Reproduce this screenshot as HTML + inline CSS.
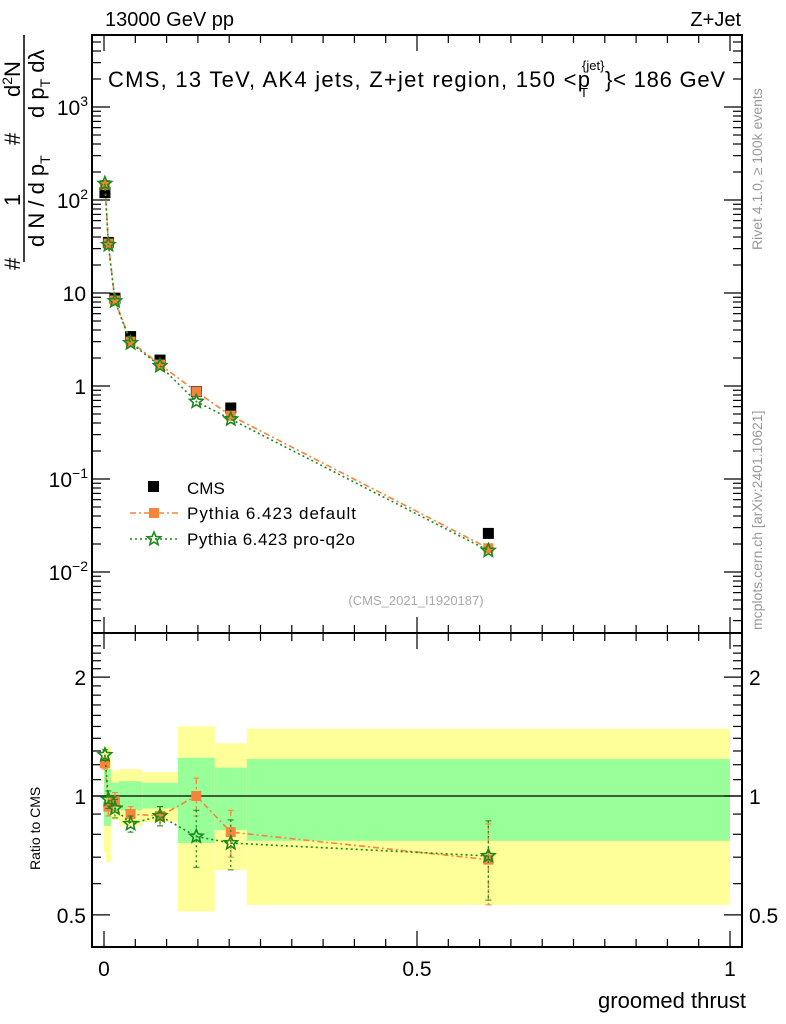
<!DOCTYPE html>
<html><head><meta charset="utf-8"><style>
body{margin:0;background:#fff;}
svg{display:block;font-family:"Liberation Sans",sans-serif;}
</style></head><body>
<svg id="chart" width="786" height="1024" viewBox="0 0 786 1024">
<text x="105" y="26" font-size="20">13000 GeV pp</text>
<text x="741" y="26" font-size="20" text-anchor="end">Z+Jet</text>
<g>
<text x="108" y="87" font-size="22" textLength="482" lengthAdjust="spacing">CMS, 13 TeV, AK4 jets, Z+jet region, 150 &lt;p</text>
<text x="580" y="97" font-size="13">T</text>
<text x="582" y="70" font-size="13">{jet}</text>
<text x="605" y="87" font-size="22" textLength="120" lengthAdjust="spacing">}&lt; 186 GeV</text>
</g>
<text x="416" y="605" font-size="13" fill="#aaa" text-anchor="middle">(CMS_2021_I1920187)</text>
<text transform="translate(762,250) rotate(-90)" font-size="14" fill="#999">Rivet 4.1.0, ≥ 100k events</text>
<text transform="translate(762,630) rotate(-90)" font-size="14" fill="#999">mcplots.cern.ch [arXiv:2401.10621]</text>
<g font-size="22">
<text transform="translate(20,270) rotate(-90)">#</text>
<text transform="translate(20,206) rotate(-90)">1</text>
<text transform="translate(20,145) rotate(-90)">#</text>
<text transform="translate(20,97) rotate(-90)">d<tspan font-size="14" dy="-8">2</tspan><tspan dy="8">N</tspan></text>
<line x1="24" y1="35" x2="24" y2="262" stroke="#000" stroke-width="1.5"/>
<text transform="translate(44,247) rotate(-90)">d N / d p<tspan font-size="14" dy="6">T</tspan></text>
<text transform="translate(44,118) rotate(-90)">d p<tspan font-size="14" dy="6">T</tspan><tspan dy="-6"> d</tspan>λ</text>
</g>
<text transform="translate(40,870) rotate(-90)" font-size="14">Ratio to CMS</text>
<text x="746" y="1008" font-size="22" text-anchor="end">groomed thrust</text>
<g id="layer"></g>
</svg>
<script>
const edges=[0,0.003,0.011,0.024,0.061,0.118,0.177,0.228,1.0];
const cmsVals=[120,35,8.8,3.4,1.9,0.87,0.58,0.026];
const defVals=[145,34,8.3,3.0,1.7,0.87,0.48,0.018];
const q2oVals=[150,33,8.2,2.9,1.65,0.68,0.44,0.017];
const defRatio=[1.21,0.94,0.97,0.90,0.89,1.0,0.81,0.69];
const q2oRatio=[1.27,0.98,0.93,0.85,0.89,0.79,0.76,0.705];
const defRatioErr=[0.04,0.05,0.05,0.04,0.05,0.11,0.11,0.16];
const q2oRatioErr=[0.04,0.05,0.05,0.04,0.05,0.13,0.11,0.16];
const yellowHi=[1.33,1.33,1.16,1.17,1.15,1.50,1.36,1.48];
const yellowLo=[0.72,0.68,0.87,0.84,0.86,0.51,0.65,0.53];
const greenHi=[1.17,1.17,1.08,1.09,1.08,1.25,1.18,1.24];
const greenLo=[0.84,0.84,0.92,0.92,0.93,0.76,0.82,0.77];
const mainTicks=[-2,-1,0,1,2,3];
const mainTickLabels=["10","10","1","10","10","10"];
const mainTickExp=["−2","−1","","","2","3"];
const ratioTicks=[0.5,1,2];
const xTicks=[0,0.5,1];
const xTickLabels=["0","0.5","1"];

const NS="http://www.w3.org/2000/svg";
const L=92,R=742,T=35,MB=633,RB=947;
const X=v=>104+v*626;
const YM=v=>386-93*Math.log10(v);
const YR=v=>796-395*Math.log10(v);
const layer=document.getElementById('layer');
function mk(tag,attrs,parent){const e=document.createElementNS(NS,tag);for(const k in attrs)e.setAttribute(k,attrs[k]);(parent||layer).appendChild(e);return e;}

const bands=mk('g',{});


for(let i=0;i<cmsVals.length;i++){
 const x0=X(edges[i]),x1=X(edges[i+1]);
 const y=mk('rect',{x:x0,y:YR(yellowHi[i]),width:x1-x0,height:YR(yellowLo[i])-YR(yellowHi[i]),fill:'#ffff99'},bands);
 
 
 const g=mk('rect',{x:x0,y:YR(greenHi[i]),width:x1-x0,height:YR(greenLo[i])-YR(greenHi[i]),fill:'#99ff99'},bands);
 
 
}
mk('line',{x1:L,x2:R,y1:YR(1),y2:YR(1),stroke:'#000','stroke-width':1.2});

const fr=mk('g',{fill:'none',stroke:'#000','stroke-width':2});


mk('rect',{x:L,y:T,width:R-L,height:MB-T},fr);
mk('rect',{x:L,y:MB,width:R-L,height:RB-MB},fr);

const ax=mk('g',{stroke:'#000','stroke-width':1.2});
for(let d=-3;d<=3;d++){for(let m=1;m<10;m++){const v=m*Math.pow(10,d);const y=YM(v);if(y<T||y>MB)continue;const len=m===1?18:9;
 mk('line',{x1:L,x2:L+len,y1:y,y2:y},ax);mk('line',{x1:R,x2:R-len,y1:y,y2:y},ax);}}
mainTicks.forEach((t,i)=>{const y=YM(Math.pow(10,t));
 const tx=mk('text',{x:86,y:y+8,'font-size':21,'text-anchor':'end',stroke:'none'});
 
 
 tx.textContent=mainTickLabels[i];
 if(mainTickExp[i]){const s=mk('tspan',{'font-size':14,dy:-9},tx);s.textContent=mainTickExp[i];tx.setAttribute('x',88);}
});
for(let v=0.4;v<=2.45;v+=0.1){const y=YR(v);if(y<MB||y>RB)continue;const maj=Math.abs(v-0.5)<1e-6||Math.abs(v-1)<1e-6||Math.abs(v-2)<1e-6;const len=maj?18:9;
 mk('line',{x1:L,x2:L+len,y1:y,y2:y},ax);mk('line',{x1:R,x2:R-len,y1:y,y2:y},ax);}
ratioTicks.forEach(t=>{const y=YR(t);
 const a=mk('text',{x:86,y:y+8,'font-size':21,'text-anchor':'end',stroke:'none'});a.textContent=String(t);
 
 
 const b=mk('text',{x:749,y:y+8,'font-size':21,stroke:'none'});b.textContent=String(t);
 
 
});
for(let i=0;i<=20;i++){const v=i*0.05;const x=X(v);const len=i%10===0?16:8;
 mk('line',{x1:x,x2:x,y1:T,y2:T+len},ax);mk('line',{x1:x,x2:x,y1:MB,y2:MB-len},ax);
 mk('line',{x1:x,x2:x,y1:MB,y2:MB+len},ax);mk('line',{x1:x,x2:x,y1:RB,y2:RB-len},ax);}
xTicks.forEach((t,i)=>{const a=mk('text',{x:X(t),y:976,'font-size':21,'text-anchor':'middle',stroke:'none'});a.textContent=xTickLabels[i];
 
 });

const centers=cmsVals.map((_,i)=>(edges[i]+edges[i+1])/2);
function star(cx,cy,r,parent){let p='';for(let k=0;k<10;k++){const rr=k%2?r*0.45:r;const a=-Math.PI/2+k*Math.PI/5;p+=(k?'L':'M')+(cx+rr*Math.cos(a)).toFixed(1)+','+(cy+rr*Math.sin(a)).toFixed(1);}
 return mk('path',{d:p+'Z',fill:'none',stroke:'#1a8a1a','stroke-width':1.6},parent);}

const cms=mk('g',{});


cmsVals.forEach((v,i)=>{const r=mk('rect',{x:X(centers[i])-5.5,y:YM(v)-5.5,width:11,height:11,fill:'#000'},cms);
 
 });
function series(vals,yf,color,dash,marker,name,errs){
 const g=mk('g',{});
 
 
 mk('polyline',{points:vals.map((v,i)=>X(centers[i])+','+yf(v)).join(' '),fill:'none',stroke:color,'stroke-width':1.6,'stroke-dasharray':dash},g);
 if(errs)vals.forEach((v,i)=>{const x=X(centers[i]);mk('line',{x1:x,x2:x,y1:yf(v+errs[i]),y2:yf(v-errs[i]),stroke:color,'stroke-width':1.3,'stroke-dasharray':dash},g);
  mk('line',{x1:x-3,x2:x+3,y1:yf(v+errs[i]),y2:yf(v+errs[i]),stroke:color},g);mk('line',{x1:x-3,x2:x+3,y1:yf(v-errs[i]),y2:yf(v-errs[i]),stroke:color},g);});
 vals.forEach((v,i)=>{const x=X(centers[i]),y=yf(v);
  if(marker==='sq'){const r=mk('rect',{x:x-5,y:y-5,width:10,height:10,fill:'#f7843c'},g);}
  else{const s=star(x,y,7,g);}});
}
series(defVals,YM,'#f7843c','6,3,2,3','sq','pythia-default-series');
series(q2oVals,YM,'#1a8a1a','2,3','star','pythia-q2o-series');
series(defRatio,YR,'#f7843c','6,3,2,3','sq','ratio-default-series',defRatioErr);
series(q2oRatio,YR,'#1a8a1a','2,3','star','ratio-q2o-series',q2oRatioErr);

const lg=mk('g',{});


mk('rect',{x:148,y:481,width:11,height:11,fill:'#000'},lg);
let t=mk('text',{x:187,y:494,'font-size':17},lg);t.textContent='CMS';
mk('line',{x1:130,x2:178,y1:513,y2:513,stroke:'#f7843c','stroke-width':1.6,'stroke-dasharray':'6,3,2,3'},lg);
mk('rect',{x:149,y:508,width:10,height:10,fill:'#f7843c'},lg);
t=mk('text',{x:187,y:519,'font-size':17,textLength:169,lengthAdjust:'spacing'},lg);t.textContent='Pythia 6.423 default';
mk('line',{x1:130,x2:178,y1:539,y2:539,stroke:'#1a8a1a','stroke-width':1.6,'stroke-dasharray':'2,3'},lg);
star(154,539,7,lg);
t=mk('text',{x:187,y:545,'font-size':17,textLength:168,lengthAdjust:'spacing'},lg);t.textContent='Pythia 6.423 pro-q2o';
</script>
</body></html>
